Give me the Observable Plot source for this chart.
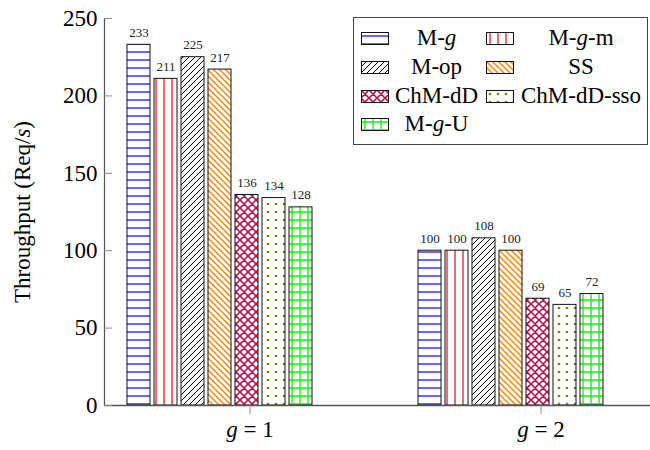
<!DOCTYPE html>
<html><head><meta charset="utf-8">
<script src="https://cdn.jsdelivr.net/npm/d3@7"></script>
<script src="https://cdn.jsdelivr.net/npm/@observablehq/plot@0.6"></script>
<style>
html,body{margin:0;padding:0;overflow:hidden;background:#fff}
#wrap{position:relative;width:650px;height:450px;overflow:hidden}
#legend{position:absolute;left:353px;top:17px;width:295px;height:128px;border:1px solid #444;background:#fff;box-sizing:border-box;font-family:"Liberation Serif","Times New Roman",Tinos,"DejaVu Serif",serif;font-size:23px;color:#000}
#legend .sw{position:absolute;width:28px;height:13px}
#legend .lb{position:absolute;text-align:center;line-height:1;white-space:nowrap}
#ylab{position:absolute;left:23px;top:212px;transform:translate(-50%,-50%) rotate(-90deg);font-family:"Liberation Serif","Times New Roman",Tinos,"DejaVu Serif",serif;font-size:23px;white-space:nowrap;color:#000}
</style></head><body>
<svg width="0" height="0" style="position:absolute">
<defs>
<pattern id="pat0" width="8" height="8" patternUnits="userSpaceOnUse"><rect width="8" height="8" fill="#fff"/><line x1="0" y1="4" x2="8" y2="4" stroke="#0000ff" stroke-width="1.2"/></pattern>
<pattern id="pat1" width="8" height="8" patternUnits="userSpaceOnUse"><rect width="8" height="8" fill="#fff"/><line x1="4" y1="0" x2="4" y2="8" stroke="#ff0000" stroke-width="1.2"/></pattern>
<pattern id="pat2" width="6" height="6" patternUnits="userSpaceOnUse"><rect width="6" height="6" fill="#fff"/><path d="M-1,1 l2,-2 M0,6 l6,-6 M5,7 l2,-2" stroke="#000" stroke-width="1"/></pattern>
<pattern id="pat3" width="6" height="6" patternUnits="userSpaceOnUse"><rect width="6" height="6" fill="#fff"/><path d="M-1,5 l2,2 M0,0 l6,6 M5,-1 l2,2" stroke="#ff8000" stroke-width="1.4"/></pattern>
<pattern id="pat4" width="8" height="8" patternUnits="userSpaceOnUse"><rect width="8" height="8" fill="#fff"/><path d="M0,0 L8,8 M0,8 L8,0 M-1,1 l2,-2 M7,9 l2,-2 M-1,7 l2,2 M7,-1 l2,2" stroke="#bf0040" stroke-width="1.5"/></pattern>
<pattern id="pat5" width="8" height="8" patternUnits="userSpaceOnUse"><rect width="8" height="8" fill="#fff"/><circle cx="4" cy="4" r="1.3" fill="#808000"/></pattern>
<pattern id="pat6" width="8" height="8" patternUnits="userSpaceOnUse"><rect width="8" height="8" fill="#fff"/><path d="M0,4 H8 M4,0 V8" stroke="#00ff00" stroke-width="1.3"/></pattern>
</defs></svg>
<div id="wrap"></div>
<script>
// ---- data ----
const series = ["M-g", "M-g-m", "M-op", "SS", "ChM-dD", "ChM-dD-sso", "M-g-U"];
const groupLabels = ["g = 1", "g = 2"];
const throughputG1 = [233, 211, 225, 217, 136, 134, 128];
const throughputG2 = [100, 100, 108, 100, 69, 65, 72];
const yTickValues = [0, 50, 100, 150, 200, 250];
const yLabel = "Throughput (Req/s)";

const data = [
  ...series.map((s, i) => ({group: groupLabels[0], series: s, value: throughputG1[i]})),
  ...series.map((s, i) => ({group: groupLabels[1], series: s, value: throughputG2[i]}))
];
const patternUrls = series.map((_, i) => `url(#pat${i})`);
const serifFont = "'Liberation Serif', 'Times New Roman', Tinos, 'DejaVu Serif', serif";

const plot = Plot.plot({
  width: 650, height: 450,
  marginLeft: 104, marginRight: -36, marginTop: 18, marginBottom: 45,
  style: {fontFamily: serifFont, fontSize: "23px", background: "transparent", color: "#000"},
  fx: {domain: groupLabels, padding: 0, label: null},
  x: {domain: series, axis: null, insetLeft: 23, insetRight: 82, paddingInner: 0.148, paddingOuter: 0},
  y: {domain: [0, 250], label: null},
  color: {domain: series, range: patternUrls},
  marks: [
    Plot.barY(data, {fx: "group", x: "series", y: "value", fill: "series", stroke: "#111", strokeWidth: 1}),
    Plot.text(data, {fx: "group", x: "series", y: "value", text: d => String(d.value), lineAnchor: "bottom", dy: -8, fontSize: 13, fill: "#222"}),
    Plot.ruleY([0], {stroke: "#555", strokeWidth: 1.5}),
    Plot.frame({anchor: "left", facetAnchor: "left", stroke: "#555", strokeWidth: 1.2}),
    Plot.axisY({ticks: yTickValues, tickSize: -8, tickPadding: 15, stroke: "#888", fontSize: 23, label: null, facetAnchor: "left"}),
    Plot.axisFx({tickSize: 9, tickPadding: 6, label: null, anchor: "bottom", stroke: "#888", fontSize: 23})
  ]
});
document.getElementById("wrap").appendChild(plot);

// italic g in group labels
d3.select(plot).selectAll("text").each(function() {
  const t = this.textContent;
  if (/^g = \d$/.test(t)) {
    const sel = d3.select(this);
    sel.text(null);
    sel.append("tspan").attr("font-style", "italic").text("g");
    sel.append("tspan").text(t.slice(1));
  }
});

// y label
const yl = d3.select("#wrap").append("div").attr("id", "ylab");
yl.append("span").text(yLabel.slice(0, -2));
yl.append("i").text(yLabel.slice(-2, -1));
yl.append("span").text(yLabel.slice(-1));

// legend
const legend = d3.select("#wrap").append("div").attr("id", "legend");
const rowY = [20, 49, 78, 106];
const swX = [7, 132];
const cellX = [[35, 130], [160, 294]];
series.forEach((s, i) => {
  const col = i % 2, row = Math.floor(i / 2);
  const sw = legend.append("svg").attr("class", "sw").attr("width", 28).attr("height", 13)
    .style("left", swX[col] + "px").style("top", (rowY[row] - 6.5) + "px");
  sw.append("rect").attr("x", 0.5).attr("y", 0.5).attr("width", 27).attr("height", 12)
    .attr("fill", patternUrls[i]).attr("stroke", "#111");
  const lb = legend.append("div").attr("class", "lb")
    .style("left", cellX[col][0] + "px").style("width", (cellX[col][1] - cellX[col][0]) + "px")
    .style("top", (rowY[row] - 12) + "px");
  const parts = s.split(/((?:^|-)g(?=-|$))/);
  parts.forEach(p => {
    if (/^-?g$/.test(p)) {
      if (p.startsWith("-")) lb.append("span").text("-");
      lb.append("i").text("g");
    } else if (p) lb.append("span").text(p);
  });
});
</script>
</body></html>
